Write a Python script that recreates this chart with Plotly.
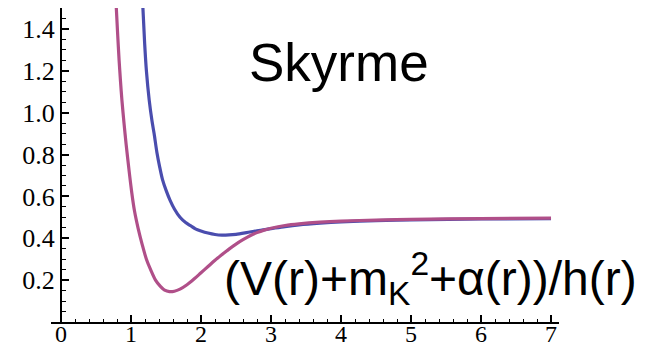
import plotly.graph_objects as go

# Data
r_magenta = [0.79, 0.81, 0.83, 0.85, 0.87, 0.90, 0.93, 0.97, 1.01, 1.05, 1.10, 1.16,
             1.22, 1.28, 1.35, 1.42, 1.48, 1.55, 1.62, 1.70, 1.80, 1.90, 2.00, 2.10,
             2.20, 2.30, 2.40, 2.50, 2.60, 2.70, 2.80, 2.90, 3.00, 3.20, 3.40, 3.70,
             4.00, 4.50, 5.00, 6.00, 7.00]
v_magenta = [1.50, 1.37, 1.25, 1.15, 1.06, 0.95, 0.85, 0.73, 0.62, 0.53, 0.45, 0.37,
             0.30, 0.25, 0.20, 0.17, 0.152, 0.145, 0.147, 0.157, 0.178, 0.205, 0.235, 0.265,
             0.295, 0.322, 0.348, 0.372, 0.393, 0.412, 0.427, 0.439, 0.448, 0.461, 0.469, 0.477,
             0.482, 0.487, 0.490, 0.494, 0.496]

r_blue = [1.17, 1.195, 1.22, 1.26, 1.30, 1.33, 1.37, 1.41, 1.45, 1.50, 1.56, 1.62,
          1.70, 1.78, 1.85, 1.92, 2.00, 2.10, 2.20, 2.30, 2.40, 2.50, 2.65, 2.80,
          3.00, 3.20, 3.40, 3.70, 4.00, 4.50, 5.00, 6.00, 7.00]
v_blue = [1.50, 1.33, 1.20, 1.06, 0.96, 0.90, 0.81, 0.74, 0.68, 0.63, 0.58, 0.54,
          0.50, 0.475, 0.46, 0.445, 0.435, 0.425, 0.418, 0.415, 0.416, 0.419, 0.427, 0.436,
          0.446, 0.456, 0.464, 0.472, 0.478, 0.484, 0.488, 0.492, 0.494]

x_ticks = [0, 1, 2, 3, 4, 5, 6, 7]
x_tick_text = ["0", "1", "2", "3", "4", "5", "6", "7"]
x_minor = [i * 0.2 for i in range(36) if i % 5 != 0]
y_ticks = [0.2, 0.4, 0.6, 0.8, 1.0, 1.2, 1.4]
y_tick_text = ["0.2", "0.4", "0.6", "0.8", "1.0", "1.2", "1.4"]
y_minor = [i * 0.05 for i in range(1, 31) if i % 4 != 0]

title_text = "Skyrme"
label_text = "(V(r)+m<sub>K</sub><sup>2</sup>+α(r))/h(r)"

SERIF = "Times New Roman"
SANS = "Liberation Sans"

fig = go.Figure()
fig.add_trace(go.Scatter(x=r_blue, y=v_blue, mode="lines",
                         line=dict(color="#4A4DAE", width=3.2, shape="spline", smoothing=0.8),
                         showlegend=False))
fig.add_trace(go.Scatter(x=r_magenta, y=v_magenta, mode="lines",
                         line=dict(color="#B04F89", width=3.2, shape="spline", smoothing=0.8),
                         showlegend=False))

fig.add_annotation(x=2.66, y=1.242, xref="x", yref="y", text=title_text, showarrow=False,
                   xanchor="left", yanchor="middle",
                   font=dict(family=SANS, size=53, color="black"))
fig.add_annotation(x=2.30, y=0.21, xref="x", yref="y", text=label_text, showarrow=False,
                   xanchor="left", yanchor="middle",
                   font=dict(family=SANS, size=48, color="black"))

fig.update_layout(
    width=652, height=350,
    margin=dict(l=51, r=93, t=8, b=28, autoexpand=False),
    paper_bgcolor="white", plot_bgcolor="white",
    font=dict(family=SERIF, size=24, color="black"),
    xaxis=dict(range=[-0.143, 7.114], showgrid=False, zeroline=False, automargin=False,
               showline=True, linecolor="black", linewidth=2,
               tickmode="array", tickvals=x_ticks, ticktext=x_tick_text,
               ticks="inside", ticklen=7, tickwidth=1.5, tickcolor="black",
               ticklabelstandoff=-11,
               minor=dict(tickmode="array", tickvals=x_minor, ticks="inside",
                          ticklen=3.5, tickwidth=1.2, tickcolor="black"),
               tickfont=dict(family=SERIF, size=24, color="black")),
    yaxis=dict(range=[0, 1.5], showgrid=False, zeroline=False, automargin=False,
               anchor="free", position=0.0197, side="left",
               showline=True, linecolor="black", linewidth=2,
               tickmode="array", tickvals=y_ticks, ticktext=y_tick_text,
               ticks="inside", ticklen=7, tickwidth=1.5, tickcolor="black",
               minor=dict(tickmode="array", tickvals=y_minor, ticks="inside",
                          ticklen=3.5, tickwidth=1.2, tickcolor="black"),
               tickfont=dict(family=SERIF, size=26, color="black")),
)

fig.write_html("out.html")
